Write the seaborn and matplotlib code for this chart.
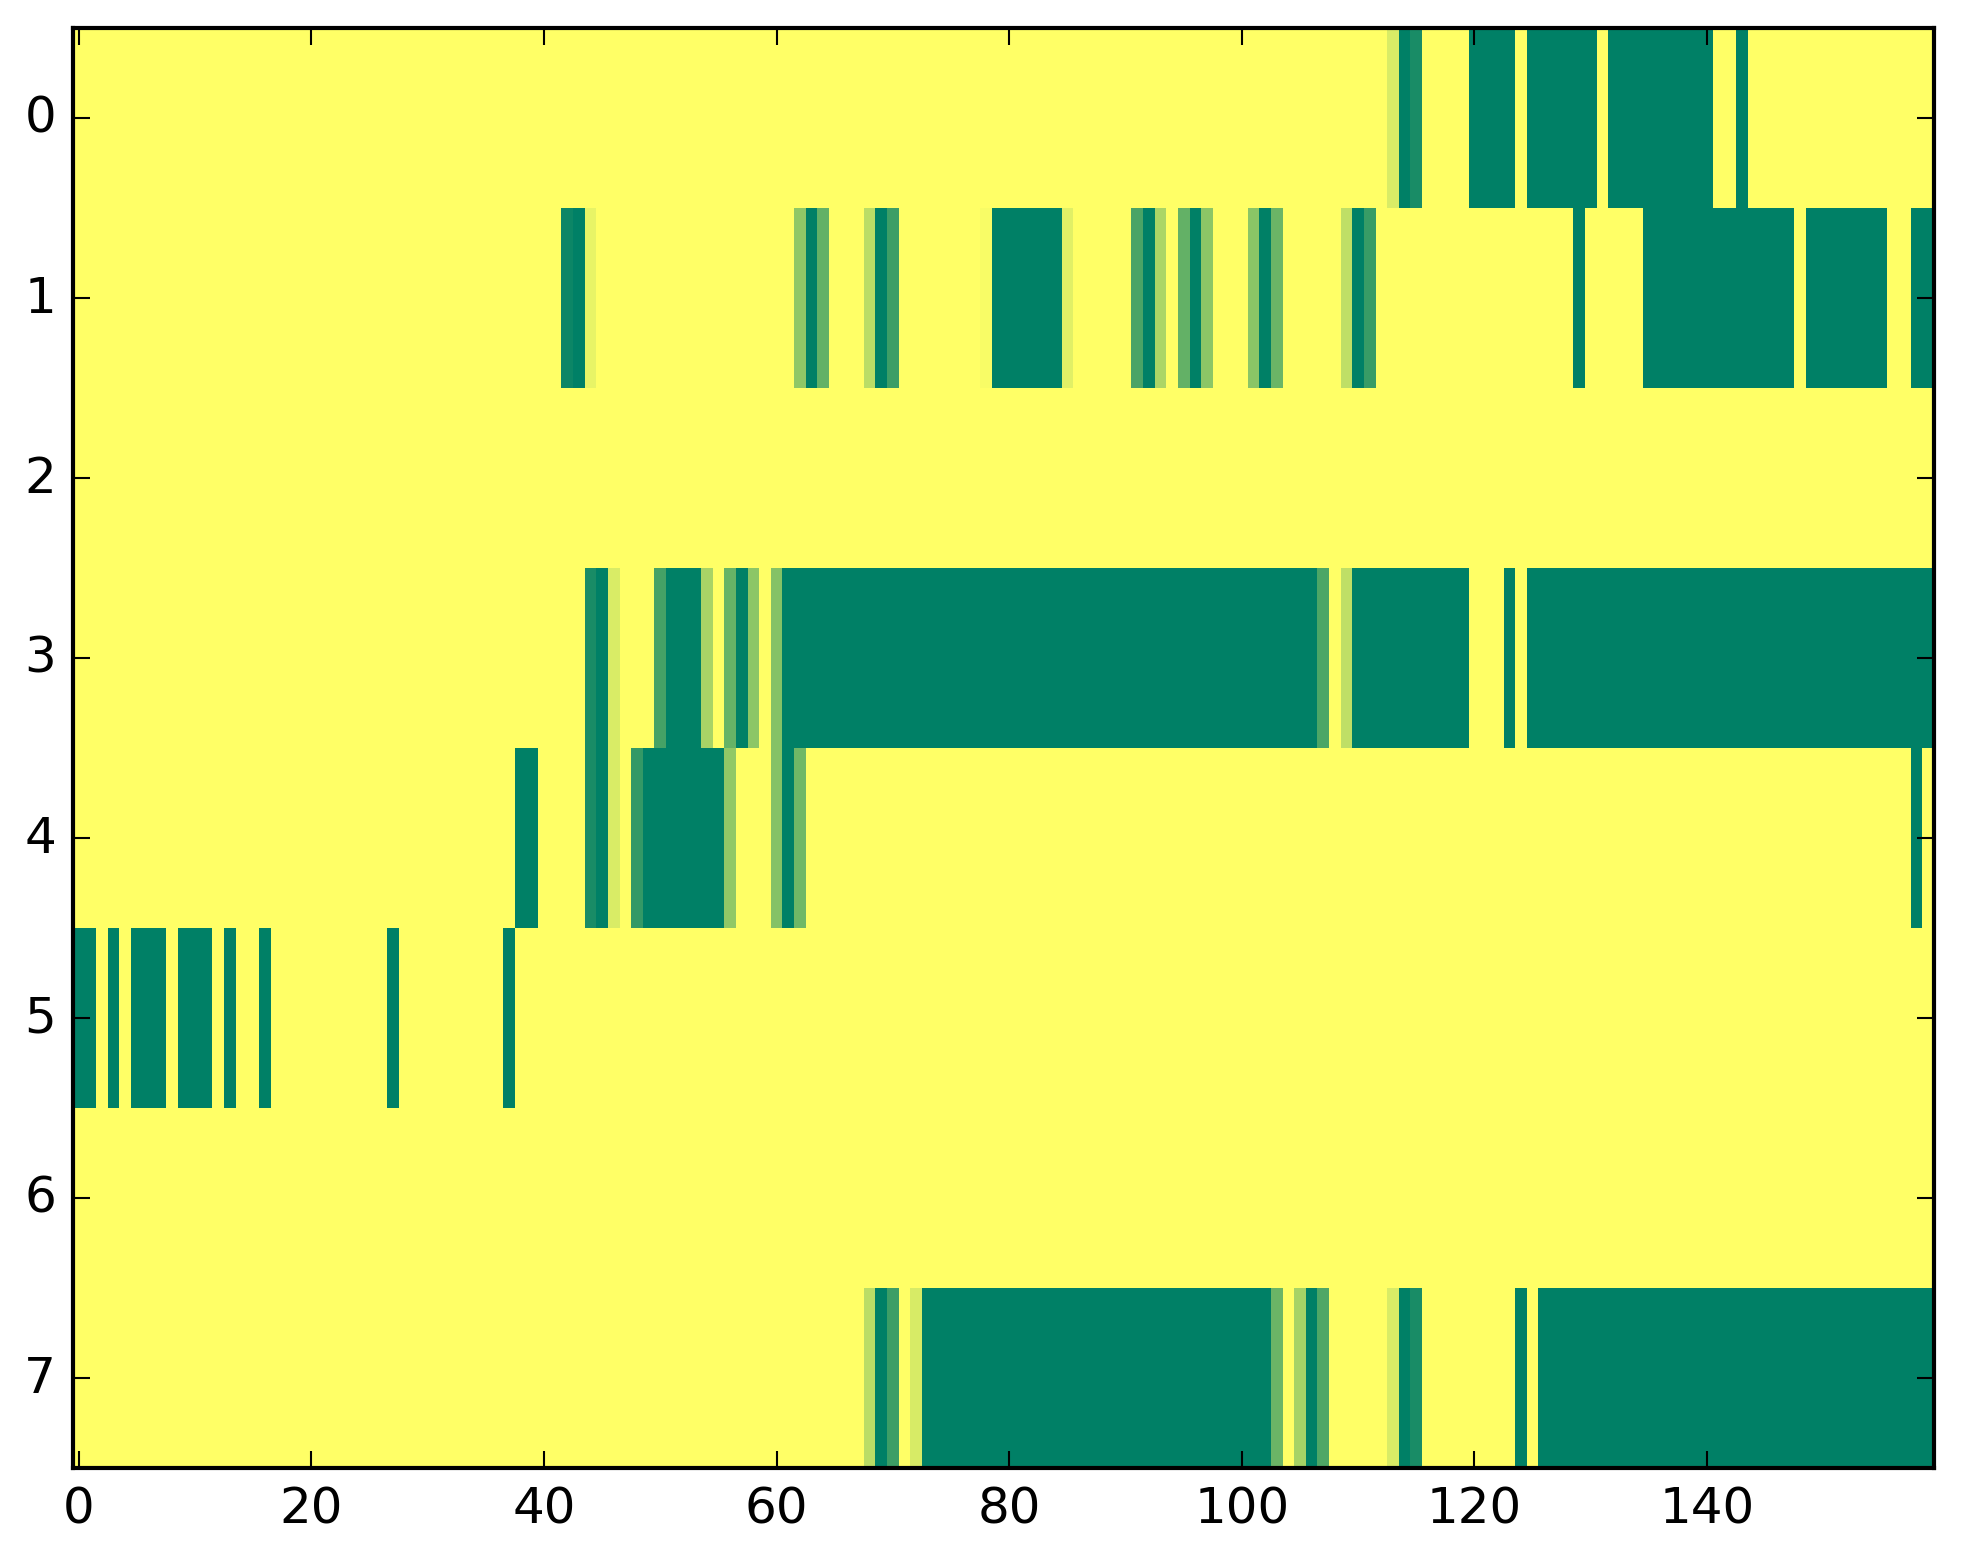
import numpy as np
import pandas as pd
import seaborn as sns
import matplotlib
matplotlib.use("Agg")
import matplotlib.pyplot as plt

# one row per line of the matrix, 160 columns each (0 = yellow, 1 = green)
row_0 = [0, 0, 0, 0, 0, 0, 0, 0, 0, 0, 0, 0, 0, 0, 0, 0, 0, 0, 0, 0,
         0, 0, 0, 0, 0, 0, 0, 0, 0, 0, 0, 0, 0, 0, 0, 0, 0, 0, 0, 0,
         0, 0, 0, 0, 0, 0, 0, 0, 0, 0, 0, 0, 0, 0, 0, 0, 0, 0, 0, 0,
         0, 0, 0, 0, 0, 0, 0, 0, 0, 0, 0, 0, 0, 0, 0, 0, 0, 0, 0, 0,
         0, 0, 0, 0, 0, 0, 0, 0, 0, 0, 0, 0, 0, 0, 0, 0, 0, 0, 0, 0,
         0, 0, 0, 0, 0, 0, 0, 0, 0, 0, 0, 0, 0, .15, 1, .9, 0, 0, 0, 0,
         1, 1, 1, 1, 0, 1, 1, 1, 1, 1, 1, 0, 1, 1, 1, 1, 1, 1, 1, 1,
         1, 0, 0, 1, 0, 0, 0, 0, 0, 0, 0, 0, 0, 0, 0, 0, 0, 0, 0, 0]

row_1 = [0, 0, 0, 0, 0, 0, 0, 0, 0, 0, 0, 0, 0, 0, 0, 0, 0, 0, 0, 0,
         0, 0, 0, 0, 0, 0, 0, 0, 0, 0, 0, 0, 0, 0, 0, 0, 0, 0, 0, 0,
         0, 0, .95, 1, .09, 0, 0, 0, 0, 0, 0, 0, 0, 0, 0, 0, 0, 0, 0, 0,
         0, 0, .44, 1, .61, 0, 0, 0, .27, 1, .76, 0, 0, 0, 0, 0, 0, 0, .03, 1,
         1, 1, 1, 1, 1, .12, 0, 0, 0, 0, 0, .71, 1, .33, 0, .61, 1, .45, 0, 0,
         0, .46, 1, .58, 0, 0, 0, 0, 0, .25, 1, .78, 0, 0, 0, 0, 0, 0, 0, 0,
         0, 0, 0, 0, 0, 0, 0, 0, 0, 1, 0, 0, 0, 0, 0, 1, 1, 1, 1, 1,
         1, 1, 1, 1, 1, 1, 1, 1, 0, 1, 1, 1, 1, 1, 1, 1, 0, 0, 1, 1]

row_2 = [0, 0, 0, 0, 0, 0, 0, 0, 0, 0, 0, 0, 0, 0, 0, 0, 0, 0, 0, 0,
         0, 0, 0, 0, 0, 0, 0, 0, 0, 0, 0, 0, 0, 0, 0, 0, 0, 0, 0, 0,
         0, 0, 0, 0, 0, 0, 0, 0, 0, 0, 0, 0, 0, 0, 0, 0, 0, 0, 0, 0,
         0, 0, 0, 0, 0, 0, 0, 0, 0, 0, 0, 0, 0, 0, 0, 0, 0, 0, 0, 0,
         0, 0, 0, 0, 0, 0, 0, 0, 0, 0, 0, 0, 0, 0, 0, 0, 0, 0, 0, 0,
         0, 0, 0, 0, 0, 0, 0, 0, 0, 0, 0, 0, 0, 0, 0, 0, 0, 0, 0, 0,
         0, 0, 0, 0, 0, 0, 0, 0, 0, 0, 0, 0, 0, 0, 0, 0, 0, 0, 0, 0,
         0, 0, 0, 0, 0, 0, 0, 0, 0, 0, 0, 0, 0, 0, 0, 0, 0, 0, 0, 0]

row_3 = [0, 0, 0, 0, 0, 0, 0, 0, 0, 0, 0, 0, 0, 0, 0, 0, 0, 0, 0, 0,
         0, 0, 0, 0, 0, 0, 0, 0, 0, 0, 0, 0, 0, 0, 0, 0, 0, 0, 0, 0,
         0, 0, 0, 0, .9, 1, .15, 0, 0, 0, .73, 1, 1, 1, .34, 0, .6, 1, .45, 0,
         .48, 1, 1, 1, 1, 1, 1, 1, 1, 1, 1, 1, 1, 1, 1, 1, 1, 1, 1, 1,
         1, 1, 1, 1, 1, 1, 1, 1, 1, 1, 1, 1, 1, 1, 1, 1, 1, 1, 1, 1,
         1, 1, 1, 1, 1, 1, 1, .7, 0, .25, 1, 1, 1, 1, 1, 1, 1, 1, 1, 1,
         0, 0, 0, 1, 0, 1, 1, 1, 1, 1, 1, 1, 1, 1, 1, 1, 1, 1, 1, 1,
         1, 1, 1, 1, 1, 1, 1, 1, 1, 1, 1, 1, 1, 1, 1, 1, 1, 1, 1, 1]

row_4 = [0, 0, 0, 0, 0, 0, 0, 0, 0, 0, 0, 0, 0, 0, 0, 0, 0, 0, 0, 0,
         0, 0, 0, 0, 0, 0, 0, 0, 0, 0, 0, 0, 0, 0, 0, 0, 0, 0, 1, 1,
         0, 0, 0, 0, .9, 1, .15, 0, .8, 1, 1, 1, 1, 1, 1, 1, .43, 0, 0, 0,
         .48, 1, .56, 0, 0, 0, 0, 0, 0, 0, 0, 0, 0, 0, 0, 0, 0, 0, 0, 0,
         0, 0, 0, 0, 0, 0, 0, 0, 0, 0, 0, 0, 0, 0, 0, 0, 0, 0, 0, 0,
         0, 0, 0, 0, 0, 0, 0, 0, 0, 0, 0, 0, 0, 0, 0, 0, 0, 0, 0, 0,
         0, 0, 0, 0, 0, 0, 0, 0, 0, 0, 0, 0, 0, 0, 0, 0, 0, 0, 0, 0,
         0, 0, 0, 0, 0, 0, 0, 0, 0, 0, 0, 0, 0, 0, 0, 0, 0, 0, 1, 0]

row_5 = [1, 1, 0, 1, 0, 1, 1, 1, 0, 1, 1, 1, 0, 1, 0, 0, 1, 0, 0, 0,
         0, 0, 0, 0, 0, 0, 0, 1, 0, 0, 0, 0, 0, 0, 0, 0, 0, 1, 0, 0,
         0, 0, 0, 0, 0, 0, 0, 0, 0, 0, 0, 0, 0, 0, 0, 0, 0, 0, 0, 0,
         0, 0, 0, 0, 0, 0, 0, 0, 0, 0, 0, 0, 0, 0, 0, 0, 0, 0, 0, 0,
         0, 0, 0, 0, 0, 0, 0, 0, 0, 0, 0, 0, 0, 0, 0, 0, 0, 0, 0, 0,
         0, 0, 0, 0, 0, 0, 0, 0, 0, 0, 0, 0, 0, 0, 0, 0, 0, 0, 0, 0,
         0, 0, 0, 0, 0, 0, 0, 0, 0, 0, 0, 0, 0, 0, 0, 0, 0, 0, 0, 0,
         0, 0, 0, 0, 0, 0, 0, 0, 0, 0, 0, 0, 0, 0, 0, 0, 0, 0, 0, 0]

row_6 = [0, 0, 0, 0, 0, 0, 0, 0, 0, 0, 0, 0, 0, 0, 0, 0, 0, 0, 0, 0,
         0, 0, 0, 0, 0, 0, 0, 0, 0, 0, 0, 0, 0, 0, 0, 0, 0, 0, 0, 0,
         0, 0, 0, 0, 0, 0, 0, 0, 0, 0, 0, 0, 0, 0, 0, 0, 0, 0, 0, 0,
         0, 0, 0, 0, 0, 0, 0, 0, 0, 0, 0, 0, 0, 0, 0, 0, 0, 0, 0, 0,
         0, 0, 0, 0, 0, 0, 0, 0, 0, 0, 0, 0, 0, 0, 0, 0, 0, 0, 0, 0,
         0, 0, 0, 0, 0, 0, 0, 0, 0, 0, 0, 0, 0, 0, 0, 0, 0, 0, 0, 0,
         0, 0, 0, 0, 0, 0, 0, 0, 0, 0, 0, 0, 0, 0, 0, 0, 0, 0, 0, 0,
         0, 0, 0, 0, 0, 0, 0, 0, 0, 0, 0, 0, 0, 0, 0, 0, 0, 0, 0, 0]

row_7 = [0, 0, 0, 0, 0, 0, 0, 0, 0, 0, 0, 0, 0, 0, 0, 0, 0, 0, 0, 0,
         0, 0, 0, 0, 0, 0, 0, 0, 0, 0, 0, 0, 0, 0, 0, 0, 0, 0, 0, 0,
         0, 0, 0, 0, 0, 0, 0, 0, 0, 0, 0, 0, 0, 0, 0, 0, 0, 0, 0, 0,
         0, 0, 0, 0, 0, 0, 0, 0, .27, 1, .76, 0, .16, 1, 1, 1, 1, 1, 1, 1,
         1, 1, 1, 1, 1, 1, 1, 1, 1, 1, 1, 1, 1, 1, 1, 1, 1, 1, 1, 1,
         1, 1, 1, .58, 0, .35, 1, .69, 0, 0, 0, 0, 0, .15, 1, .9, 0, 0, 0, 0,
         0, 0, 0, 0, 1, 0, 1, 1, 1, 1, 1, 1, 1, 1, 1, 1, 1, 1, 1, 1,
         1, 1, 1, 1, 1, 1, 1, 1, 1, 1, 1, 1, 1, 1, 1, 1, 1, 1, 1, 1]

row_labels = [0, 1, 2, 3, 4, 5, 6, 7]
x_ticks = [0, 20, 40, 60, 80, 100, 120, 140]

plt.style.use("classic")

df = pd.DataFrame([row_0, row_1, row_2, row_3, row_4, row_5, row_6, row_7],
                  index=row_labels)

W, H, DPI = 1963, 1564, 300
fig = plt.figure(figsize=(W / DPI, H / DPI), dpi=DPI, facecolor="white")
ax = fig.add_axes([72.9 / W, 95.3 / H, 1861 / W, 1440 / H])

sns.heatmap(df, cmap="summer_r", vmin=0, vmax=1, cbar=False, ax=ax)

# heatmap strips the frame, put it back like imshow
for s in ax.spines.values():
    s.set_visible(True)
    s.set_linewidth(1.0)
    s.set_color("black")

ax.set_xticks(np.array(x_ticks) + 0.5)
ax.set_xticklabels(x_ticks, rotation=0)
ax.set_yticks(np.array(row_labels) + 0.5)
ax.set_yticklabels(row_labels, rotation=0)
ax.tick_params(direction="in", top=True, right=True, length=4, width=0.5,
               labelsize=12, pad=4)
ax.set_xlabel("")
ax.set_ylabel("")

fig.savefig("out.png", dpi=DPI, facecolor="white")
